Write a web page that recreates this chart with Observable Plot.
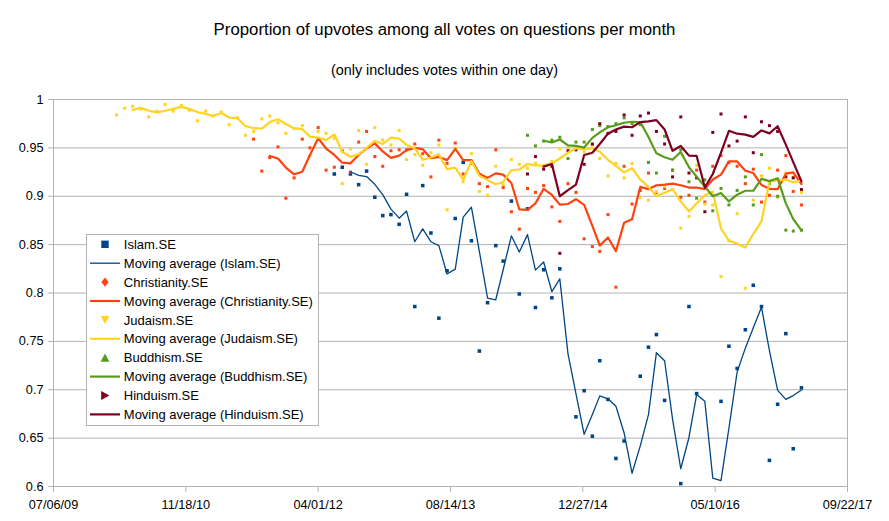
<!DOCTYPE html>
<html>
<head>
<meta charset="utf-8">
<script src="https://cdn.jsdelivr.net/npm/d3@7"></script>
<script src="https://cdn.jsdelivr.net/npm/@observablehq/plot@0.6"></script>
<style>
  body { margin: 0; background: #fff; }
  #wrap { position: relative; width: 889px; height: 521px; font-family: "Liberation Sans", Arial, sans-serif; color: #000; background: #fff; }
  #title { position: absolute; left: 0; top: 19px; width: 889px; text-align: center; font-size: 16.8px; line-height: 22px; }
  #subtitle { position: absolute; left: 0; top: 60px; width: 889px; text-align: center; font-size: 14.4px; line-height: 20px; }
  #plot { position: absolute; left: 0; top: 80px; }
  #legend { position: absolute; left: 86px; top: 234px; }
</style>
</head>
<body>
<div id="wrap">
  <div id="title">Proportion of upvotes among all votes on questions per month</div>
  <div id="subtitle">(only includes votes within one day)</div>
  <div id="plot"></div>
  <svg id="legend" width="234" height="193"></svg>
</div>
<script>
// ---- Data (monthly proportions) ----
const judaismStart = "2010-03";
const judaismSE = [
  0.984, 0.991, 0.993, 0.990, 0.982, 0.988, 0.995, 0.988, 0.994, 0.989,
  0.978, 0.988, 0.983, 0.987, 0.974, 0.981, 0.963, 0.967, 0.980, 0.983,
  0.976, 0.965, 0.970, 0.973, 0.942, 0.967, 0.965, 0.960, 0.913, 0.949,
  0.968, 0.933, 0.971, 0.958, 0.953, 0.968, 0.938, 0.943, 0.932, 0.945,
  0.953, 0.886, 0.950, 0.915, 0.944, 0.905, 0.901, 0.931, 0.912, 0.938,
  0.933, 0.929, 0.934, 0.932, 0.936, 0.949, 0.950, 0.950, 0.946, 0.953,
  0.939, 0.921, 0.934, 0.919, 0.934, 0.899, 0.896, 0.905, 0.910, 0.907,
  0.867, 0.879, 0.932, 0.892, 0.891, 0.817, 0.854, 0.882, 0.805, 0.896,
  0.921, 0.929, 0.899, 0.924, 0.920, 0.904
];

const christianityStart = "2011-08";
const christianitySE = [
  0.959, 0.926, 0.940, 0.951, 0.898, 0.919, 0.959, 0.950, 0.971, 0.927,
  0.930, 0.947, 0.925, 0.956, 0.967, 0.941, 0.931, 0.947, 0.948, 0.948,
  0.954, 0.944, 0.920, 0.958, 0.934, 0.955, 0.923, 0.934, 0.913, 0.910,
  0.948, 0.909, 0.884, 0.866, 0.908, 0.904, 0.911, 0.889, 0.874, 0.913,
  0.904, 0.856, 0.848, 0.843, 0.881, 0.806, 0.931, 0.892, 0.906, 0.924,
  0.904, 0.908, 0.927, 0.899, 0.901, 0.927, 0.894, 0.931, 0.942, 0.935,
  0.931, 0.913, 0.928, 0.894, 0.901, 0.927, 0.942, 0.905, 0.891
];

const islamStart = "2012-06";
const islamSE = [
  0.923, 0.930, 0.923, 0.912, 0.926, 0.899, 0.880, 0.881, 0.871, 0.902,
  0.786, 0.911, 0.862, 0.774, 0.823, 0.877, 0.935, 0.854, 0.740, 0.790,
  0.849, 0.833, 0.895, 0.799, 0.887, 0.785, 0.824, 0.795, 0.825, 0.591,
  0.672, 0.699, 0.652, 0.730, 0.690, 0.629, 0.647, 0.565, 0.714, 0.744,
  0.757, 0.689, 0.563, 0.603, 0.786, 0.696, 0.582, 0.548, 0.688, 0.745,
  0.722, 0.762, 0.808, 0.786, 0.627, 0.685, 0.758, 0.639, 0.702
];

const buddhismStart = "2014-06";
const buddhismSE = [
  0.963, 0.952, 0.957, 0.958, 0.961, 0.939, 0.956, 0.956, 0.969, 0.973,
  0.972, 0.975, 0.981, 0.975, 0.974, 0.935, 0.924, 0.962, 0.927, 0.948,
  0.915, 0.898, 0.917, 0.885, 0.908, 0.891, 0.906, 0.920, 0.891, 0.943,
  0.913, 0.900, 0.865, 0.864, 0.865
];

const hinduismStart = "2014-06";
const hinduismSE = [
  0.923, 0.941, 0.928, 0.931, 0.841, 0.947, 0.948, 0.933, 0.954, 0.975,
  0.965, 0.967, 0.984, 0.963, 0.983, 0.986, 0.967, 0.954, 0.920, 0.982,
  0.924, 0.919, 0.884, 0.966, 0.985, 0.952, 0.957, 0.982, 0.945, 0.977,
  0.973, 0.967, 0.920, 0.919, 0.907
];

const seriesNames = ["Islam.SE", "Christianity.SE", "Judaism.SE", "Buddhism.SE", "Hinduism.SE"];
const seriesColors = ["#004586", "#ff420e", "#ffd320", "#579d1c", "#7e0021"];

const xTickDates = ["2009-07-06", "2010-11-18", "2012-04-01", "2013-08-14", "2014-12-27", "2016-05-10", "2017-09-22"];
const xTickLabels = ["07/06/09", "11/18/10", "04/01/12", "08/14/13", "12/27/14", "05/10/16", "09/22/17"];
const yTicks = [0.6, 0.65, 0.7, 0.75, 0.8, 0.85, 0.9, 0.95, 1];
const yTickLabels = ["0.6", "0.65", "0.7", "0.75", "0.8", "0.85", "0.9", "0.95", "1"];

const titleText = "Proportion of upvotes among all votes on questions per month";
const subtitleText = "(only includes votes within one day)";

// ---- Build tables ----
const parseMonth = d3.utcParse("%Y-%m");
const parseDay = d3.utcParse("%Y-%m-%d");
function monthly(start, values, name) {
  const s = parseMonth(start);
  return values.map((v, i) => ({date: d3.utcMonth.offset(s, i), value: v, series: name}));
}
const tables = [
  monthly(islamStart, islamSE, seriesNames[0]),
  monthly(christianityStart, christianitySE, seriesNames[1]),
  monthly(judaismStart, judaismSE, seriesNames[2]),
  monthly(buddhismStart, buddhismSE, seriesNames[3]),
  monthly(hinduismStart, hinduismSE, seriesNames[4])
];
const lineWidths = [1.3, 2.2, 2.2, 2.2, 2.2];
const dotRadius = [2.0, 1.7, 1.7, 1.7, 1.7];

const xTicks = xTickDates.map(parseDay);
const xLabelOf = new Map(xTicks.map((d, i) => [+d, xTickLabels[i]]));
const yLabelOf = new Map(yTicks.map((d, i) => [d, yTickLabels[i]]));

document.getElementById("title").textContent = titleText;
document.getElementById("subtitle").textContent = subtitleText;

const grey = "#b3b3b3";

const chart = Plot.plot({
  width: 889,
  height: 441,
  marginTop: 19,
  marginBottom: 35,
  marginLeft: 53,
  marginRight: 42,
  style: {fontFamily: "Liberation Sans, Arial, sans-serif", fontSize: "12.7px", color: "#000", background: "#fff", overflow: "visible"},
  x: {type: "utc", domain: [xTicks[0], xTicks[xTicks.length - 1]]},
  y: {domain: [0.6, 1]},
  marks: [
    Plot.ruleY(yTicks, {stroke: grey, strokeWidth: 1}),
    Plot.frame({stroke: grey}),
    Plot.axisY({ticks: yTicks, tickFormat: d => yLabelOf.get(d), tickSize: 5, tickPadding: 5, stroke: grey, fill: "#000", label: null}),
    Plot.axisX({ticks: xTicks, tickFormat: d => xLabelOf.get(+d), tickSize: 6, tickPadding: 7, stroke: grey, fill: "#000", label: null}),
    ...tables.map((t, i) => Plot.dot(t, {x: "date", y: "value", symbol: "square", r: dotRadius[i], fill: seriesColors[i], clip: true})),
    ...tables.map((t, i) => Plot.line(t, Plot.windowY({k: 3, anchor: "end", reduce: "mean", strict: true},
      {x: "date", y: "value", stroke: seriesColors[i], strokeWidth: lineWidths[i], clip: true})))
  ]
});
document.getElementById("plot").appendChild(chart);

// ---- Legend ----
const lg = d3.select("#legend");
lg.append("rect").attr("x", 0.5).attr("y", 0.5).attr("width", 232).attr("height", 191)
  .attr("fill", "#fff").attr("stroke", grey);
const shapes = [
  "M-3.7,-3.7H3.7V3.7H-3.7Z",
  "M0,-4.6L3.6,0L0,4.6L-3.6,0Z",
  "M-4.4,-4L4.4,-4L0,4.2Z",
  "M-4.4,4L4.4,4L0,-4.2Z",
  "M-3.8,-4.6L4.4,0L-3.8,4.6Z"
];
seriesNames.forEach((name, i) => {
  const yS = 10.3 + 18.9 * (2 * i);
  const yL = 10.3 + 18.9 * (2 * i + 1);
  lg.append("path").attr("d", shapes[i]).attr("transform", `translate(19,${yS})`).attr("fill", seriesColors[i]);
  lg.append("text").attr("x", 37.8).attr("y", yS).attr("dy", "0.36em")
    .attr("font-family", "Liberation Sans, Arial, sans-serif").attr("font-size", "13px").text(name);
  lg.append("line").attr("x1", 4).attr("x2", 34).attr("y1", yL).attr("y2", yL)
    .attr("stroke", seriesColors[i]).attr("stroke-width", lineWidths[i]);
  lg.append("text").attr("x", 37.8).attr("y", yL).attr("dy", "0.36em")
    .attr("font-family", "Liberation Sans, Arial, sans-serif").attr("font-size", "13px").text(`Moving average (${name})`);
});
</script>
</body>
</html>
